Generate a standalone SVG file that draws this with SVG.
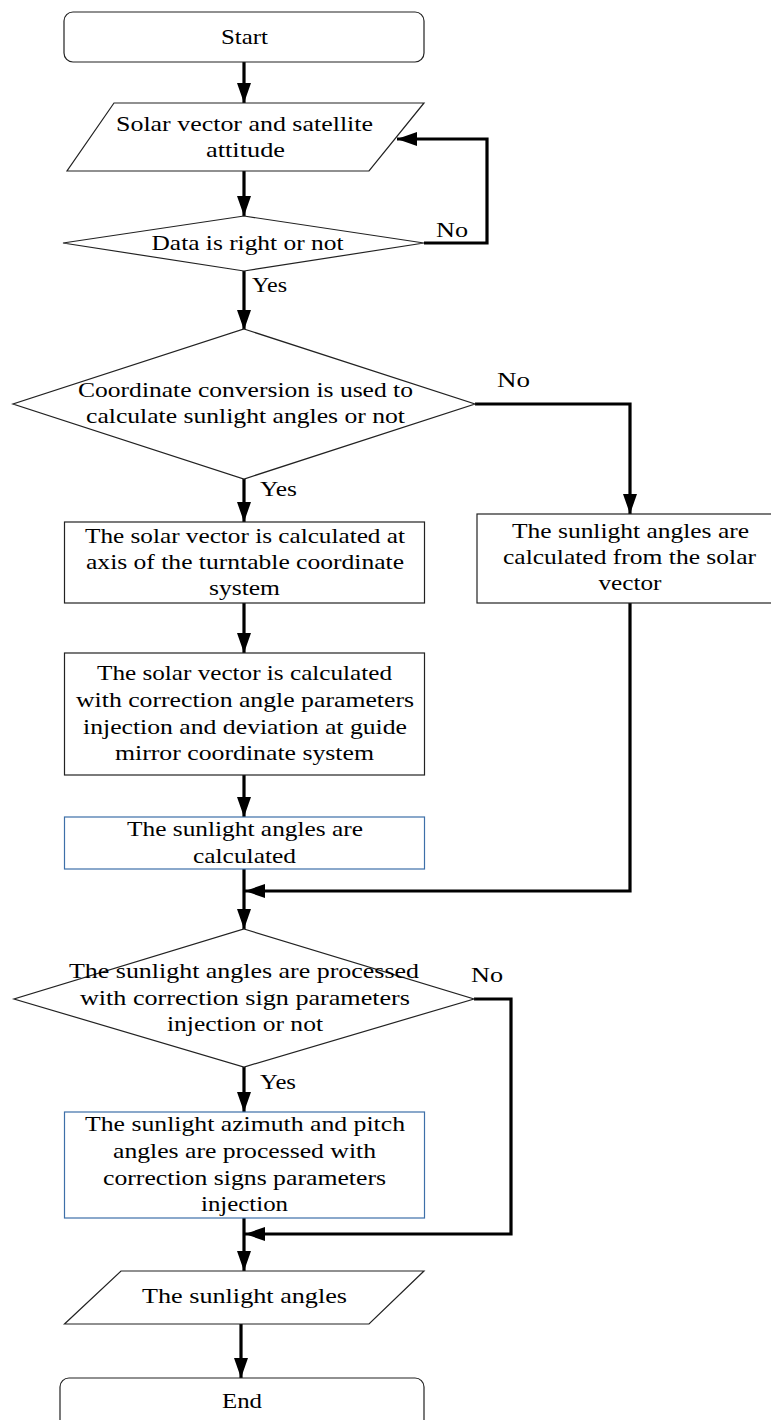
<svg xmlns="http://www.w3.org/2000/svg" width="771" height="1420" viewBox="0 0 771 1420">
  <defs>
    <marker id="arrow" markerUnits="userSpaceOnUse" markerWidth="20" markerHeight="14" refX="20" refY="7" orient="auto">
      <path d="M0,0 L20,7 L0,14 z" fill="#000"/>
    </marker>
    <style>
      .shape { fill: #fff; stroke: #222; stroke-width: 1.2; }
      .blue { fill: #fff; stroke: #3d6fa8; stroke-width: 1.2; }
      .conn { fill: none; stroke: #000; stroke-width: 3.2; }
      .c { text-anchor: middle; }
    </style>
  </defs>
  <rect width="771" height="1420" fill="#fff"/>

  <g font-family="'Liberation Serif', 'DejaVu Serif', serif" font-size="22" fill="#000" lengthAdjust="spacingAndGlyphs">
  <!-- connectors and branch labels -->
  <g id="connectors">
    <line class="conn" x1="244" y1="62" x2="244" y2="103" marker-end="url(#arrow)"/>
    <line class="conn" x1="244" y1="171" x2="244" y2="216" marker-end="url(#arrow)"/>
    <polyline class="conn" points="424,243 487,243 487,139 397,139" marker-end="url(#arrow)"/>
    <line class="conn" x1="244" y1="271" x2="244" y2="330" marker-end="url(#arrow)"/>
    <line class="conn" x1="244" y1="479" x2="244" y2="522" marker-end="url(#arrow)"/>
    <polyline class="conn" points="475,404 630,404 630,514" marker-end="url(#arrow)"/>
    <line class="conn" x1="244" y1="603" x2="244" y2="653" marker-end="url(#arrow)"/>
    <line class="conn" x1="244" y1="775" x2="244" y2="817" marker-end="url(#arrow)"/>
    <polyline class="conn" points="630,603 630,891 245,891" marker-end="url(#arrow)"/>
    <line class="conn" x1="244" y1="869" x2="244" y2="929" marker-end="url(#arrow)"/>
    <line class="conn" x1="244" y1="1067" x2="244" y2="1112" marker-end="url(#arrow)"/>
    <polyline class="conn" points="474,999 511,999 511,1234 245,1234" marker-end="url(#arrow)"/>
    <line class="conn" x1="244" y1="1218" x2="244" y2="1271" marker-end="url(#arrow)"/>
    <line class="conn" x1="241" y1="1324" x2="241" y2="1378" marker-end="url(#arrow)"/>
    <text x="436" y="237" textLength="32" lengthAdjust="spacingAndGlyphs">No</text>
    <text x="252" y="292" textLength="35" lengthAdjust="spacingAndGlyphs">Yes</text>
    <text x="497" y="387" textLength="33" lengthAdjust="spacingAndGlyphs">No</text>
    <text x="260" y="496" textLength="37" lengthAdjust="spacingAndGlyphs">Yes</text>
    <text x="471" y="982" textLength="32" lengthAdjust="spacingAndGlyphs">No</text>
    <text x="260" y="1089" textLength="36" lengthAdjust="spacingAndGlyphs">Yes</text>
  </g>

  <g id="start">
    <rect class="shape" x="64" y="12" width="360" height="50" rx="9"/>
    <text class="c" x="244.5" y="44" textLength="47" lengthAdjust="spacingAndGlyphs">Start</text>
  </g>

  <g id="input-data">
    <polygon class="shape" points="114,103 424,103 369,171 67,171"/>
    <text class="c" x="244.5" y="131" textLength="257" lengthAdjust="spacingAndGlyphs">Solar vector and  satellite</text>
    <text class="c" x="245.5" y="157" textLength="79" lengthAdjust="spacingAndGlyphs">attitude</text>
  </g>

  <g id="check-data">
    <polygon class="shape" points="244,216 424,243 244,271 63,243"/>
    <text class="c" x="247.5" y="250" textLength="192" lengthAdjust="spacingAndGlyphs">Data is right or not</text>
  </g>

  <g id="check-conversion">
    <polygon class="shape" points="244,329 475,404 244,479 13,404"/>
    <text class="c" x="245.5" y="397" textLength="335" lengthAdjust="spacingAndGlyphs">Coordinate conversion is used to</text>
    <text class="c" x="245.5" y="423" textLength="319" lengthAdjust="spacingAndGlyphs">calculate sunlight angles or not</text>
  </g>

  <g id="turntable-vector">
    <rect class="shape" x="64.5" y="522" width="360" height="81"/>
    <text class="c" x="245" y="543" textLength="320" lengthAdjust="spacingAndGlyphs">The solar vector is calculated at</text>
    <text class="c" x="245" y="569" textLength="318" lengthAdjust="spacingAndGlyphs">axis of the turntable coordinate</text>
    <text class="c" x="244.5" y="595" textLength="71" lengthAdjust="spacingAndGlyphs">system</text>
  </g>

  <g id="direct-angles">
    <rect class="shape" x="477" y="514" width="296" height="89"/>
    <text class="c" x="630.5" y="538" textLength="237" lengthAdjust="spacingAndGlyphs">The sunlight angles are</text>
    <text class="c" x="629.5" y="564" textLength="253" lengthAdjust="spacingAndGlyphs">calculated from the solar</text>
    <text class="c" x="630" y="590" textLength="63" lengthAdjust="spacingAndGlyphs">vector</text>
  </g>

  <g id="mirror-vector">
    <rect class="shape" x="64.5" y="653" width="360" height="122"/>
    <text class="c" x="244.5" y="680" textLength="295" lengthAdjust="spacingAndGlyphs">The solar vector is calculated</text>
    <text class="c" x="245" y="707" textLength="338" lengthAdjust="spacingAndGlyphs">with correction angle parameters</text>
    <text class="c" x="245" y="734" textLength="324" lengthAdjust="spacingAndGlyphs">injection and deviation at guide</text>
    <text class="c" x="244.5" y="760" textLength="259" lengthAdjust="spacingAndGlyphs">mirror coordinate system</text>
  </g>

  <g id="angles-calculated">
    <rect class="blue" x="64.5" y="817" width="360" height="52"/>
    <text class="c" x="245" y="836" textLength="236" lengthAdjust="spacingAndGlyphs">The sunlight angles are</text>
    <text class="c" x="244.5" y="863" textLength="103" lengthAdjust="spacingAndGlyphs">calculated</text>
  </g>

  <g id="check-sign">
    <polygon class="shape" points="244,929 474,999 244,1067 14,999"/>
    <text class="c" x="244" y="978" textLength="350" lengthAdjust="spacingAndGlyphs">The sunlight  angles are processed</text>
    <text class="c" x="245" y="1005" textLength="330" lengthAdjust="spacingAndGlyphs">with  correction sign parameters</text>
    <text class="c" x="245" y="1031" textLength="156" lengthAdjust="spacingAndGlyphs">injection or not</text>
  </g>

  <g id="sign-correction">
    <rect class="blue" x="64.5" y="1112" width="360" height="106"/>
    <text class="c" x="245" y="1131" textLength="320" lengthAdjust="spacingAndGlyphs">The sunlight azimuth and pitch</text>
    <text class="c" x="244.5" y="1158" textLength="263" lengthAdjust="spacingAndGlyphs">angles are processed with</text>
    <text class="c" x="244.5" y="1185" textLength="283" lengthAdjust="spacingAndGlyphs">correction signs parameters</text>
    <text class="c" x="244.5" y="1211" textLength="87" lengthAdjust="spacingAndGlyphs">injection</text>
  </g>

  <g id="output-angles">
    <polygon class="shape" points="121,1271 424,1271 369,1324 64.5,1324"/>
    <text class="c" x="244.5" y="1303" textLength="205" lengthAdjust="spacingAndGlyphs">The sunlight  angles</text>
  </g>

  <g id="end">
    <rect class="shape" x="60" y="1378" width="364" height="60" rx="9"/>
    <text class="c" x="242" y="1408" textLength="40" lengthAdjust="spacingAndGlyphs">End</text>
  </g>
  </g>
</svg>
